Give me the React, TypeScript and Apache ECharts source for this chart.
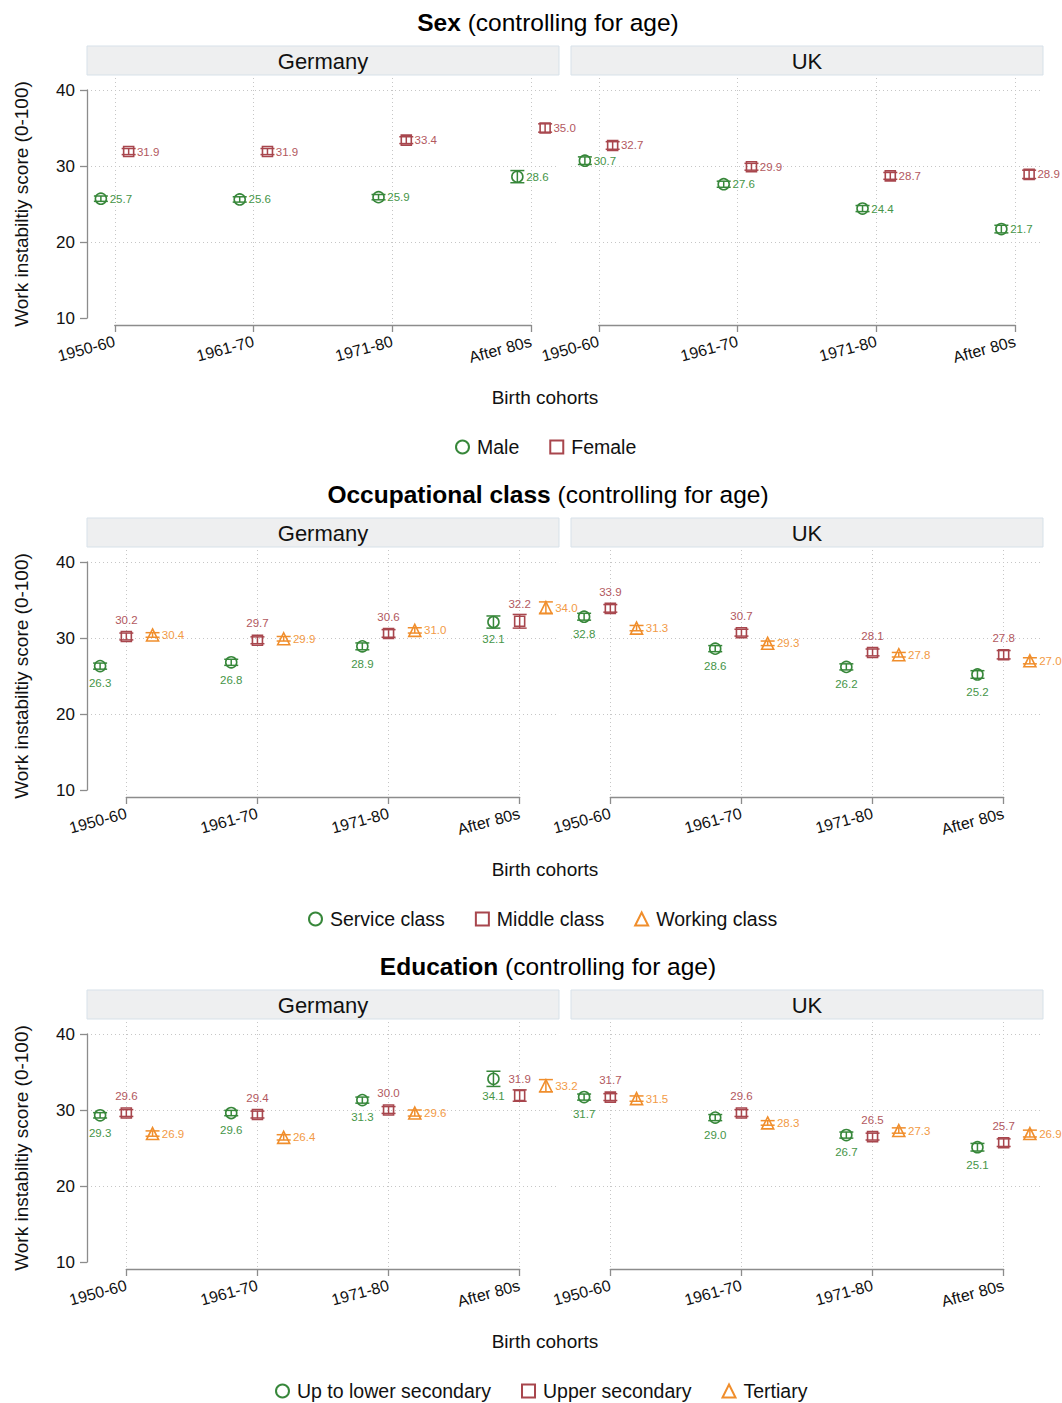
import React, { useEffect, useRef } from 'react';
import * as echarts from 'echarts';

// ---------- data ----------
const cohorts = ['1950-60', '1961-70', '1971-80', 'After 80s'];
const countries = ['Germany', 'UK'];

// Sex
const sexGroups = ['Male', 'Female'];
const sexGermanyMale = [25.7, 25.6, 25.9, 28.6];
const sexGermanyFemale = [31.9, 31.9, 33.4, 35.0];
const sexUKMale = [30.7, 27.6, 24.4, 21.7];
const sexUKFemale = [32.7, 29.9, 28.7, 28.9];
const sexGermanyMaleCI = [0.35, 0.35, 0.35, 0.8];
const sexGermanyFemaleCI = [0.4, 0.4, 0.45, 0.55];
const sexUKMaleCI = [0.5, 0.4, 0.4, 0.5];
const sexUKFemaleCI = [0.5, 0.45, 0.45, 0.55];

// Occupational class
const occGroups = ['Service class', 'Middle class', 'Working class'];
const occGermanyService = [26.3, 26.8, 28.9, 32.1];
const occGermanyMiddle = [30.2, 29.7, 30.6, 32.2];
const occGermanyWorking = [30.4, 29.9, 31.0, 34.0];
const occUKService = [32.8, 28.6, 26.2, 25.2];
const occUKMiddle = [33.9, 30.7, 28.1, 27.8];
const occUKWorking = [31.3, 29.3, 27.8, 27.0];
const occGermanyServiceCI = [0.4, 0.4, 0.45, 0.8];
const occGermanyMiddleCI = [0.45, 0.45, 0.5, 0.9];
const occGermanyWorkingCI = [0.3, 0.3, 0.35, 0.75];
const occUKServiceCI = [0.45, 0.4, 0.4, 0.5];
const occUKMiddleCI = [0.5, 0.45, 0.45, 0.55];
const occUKWorkingCI = [0.35, 0.3, 0.3, 0.4];

// Education
const eduGroups = ['Up to lower secondary', 'Upper secondary', 'Tertiary'];
const eduGermanyLower = [29.3, 29.6, 31.3, 34.1];
const eduGermanyUpper = [29.6, 29.4, 30.0, 31.9];
const eduGermanyTertiary = [26.9, 26.4, 29.6, 33.2];
const eduUKLower = [31.7, 29.0, 26.7, 25.1];
const eduUKUpper = [31.7, 29.6, 26.5, 25.7];
const eduUKTertiary = [31.5, 28.3, 27.3, 26.9];
const eduGermanyLowerCI = [0.35, 0.35, 0.4, 1.0];
const eduGermanyUpperCI = [0.45, 0.45, 0.45, 0.75];
const eduGermanyTertiaryCI = [0.35, 0.35, 0.4, 0.8];
const eduUKLowerCI = [0.4, 0.4, 0.4, 0.5];
const eduUKUpperCI = [0.45, 0.45, 0.45, 0.5];
const eduUKTertiaryCI = [0.35, 0.3, 0.35, 0.45];

const panelTitles = ['Sex', 'Occupational class', 'Education'];

// ---------- styling / layout ----------
const FONT = '"Liberation Sans", Arial, Helvetica, sans-serif';
const markerColors = ['#37873a', '#a8464d', '#f08e2c'];
const labelColors = ['#469548', '#b2585e', '#f29a45'];
const symbols = ['circle', 'rect', 'triangle'];
const symbolSizes = [11, 10, 12];
const AXIS_GRAY = '#8c8c8c';
const GRID_GRAY = '#c6c6c6';
const PANEL_SHIFT = 472;
const FACET_LEFT = [87, 571];
const FACET_W = 472;
const LEGEND_LEFT = [450, 303, 270];

const panels = [
  {
    title: panelTitles[0],
    groups: sexGroups,
    values: [[sexGermanyMale, sexGermanyFemale], [sexUKMale, sexUKFemale]],
    cis: [[sexGermanyMaleCI, sexGermanyFemaleCI], [sexUKMaleCI, sexUKFemaleCI]],
    offsets: [-0.1, 0.1],
    range: [0.8, 4.2],
    labelPos: ['right', 'right'],
  },
  {
    title: panelTitles[1],
    groups: occGroups,
    values: [
      [occGermanyService, occGermanyMiddle, occGermanyWorking],
      [occUKService, occUKMiddle, occUKWorking],
    ],
    cis: [
      [occGermanyServiceCI, occGermanyMiddleCI, occGermanyWorkingCI],
      [occUKServiceCI, occUKMiddleCI, occUKWorkingCI],
    ],
    offsets: [-0.2, 0, 0.2],
    range: [0.7, 4.3],
    labelPos: ['bottom', 'top', 'right'],
  },
  {
    title: panelTitles[2],
    groups: eduGroups,
    values: [
      [eduGermanyLower, eduGermanyUpper, eduGermanyTertiary],
      [eduUKLower, eduUKUpper, eduUKTertiary],
    ],
    cis: [
      [eduGermanyLowerCI, eduGermanyUpperCI, eduGermanyTertiaryCI],
      [eduUKLowerCI, eduUKUpperCI, eduUKTertiaryCI],
    ],
    offsets: [-0.2, 0, 0.2],
    range: [0.7, 4.3],
    labelPos: ['bottom', 'top', 'right'],
  },
];

function buildOption() {
  const grids: any[] = [];
  const xAxes: any[] = [];
  const yAxes: any[] = [];
  const series: any[] = [];
  const graphics: any[] = [];
  const legends: any[] = [];

  panels.forEach((P, p) => {
    const t = p * PANEL_SHIFT;
    const [rmin, rmax] = P.range;
    const unit = FACET_W / (rmax - rmin);

    // panel title
    graphics.push({
      type: 'text',
      x: 548,
      y: t + 22,
      style: {
        text: `{b|${P.title}} (controlling for age)`,
        fontSize: 24.5,
        fontFamily: FONT,
        fill: '#000',
        align: 'center',
        verticalAlign: 'middle',
        rich: { b: { fontSize: 24.5, fontFamily: FONT, fontWeight: 'bold', fill: '#000' } },
      },
    });
    // x title
    graphics.push({
      type: 'text',
      x: 545,
      y: t + 397,
      style: {
        text: 'Birth cohorts',
        fontSize: 19,
        fontFamily: FONT,
        fill: '#111',
        align: 'center',
        verticalAlign: 'middle',
      },
    });

    legends.push({
      data: P.groups,
      top: t + 432,
      left: LEGEND_LEFT[p],
      itemWidth: 13,
      itemHeight: 13,
      itemGap: 30,
      selectedMode: false,
      textStyle: { fontSize: 19.5, color: '#111', fontFamily: FONT, padding: [0, 0, 0, 3] },
    });

    countries.forEach((country, f) => {
      const left = FACET_LEFT[f];
      const aIdx = (p * 2 + f) * 2;
      const bIdx = aIdx + 1;

      // strip
      graphics.push({
        type: 'rect',
        shape: { x: left, y: t + 46, width: FACET_W, height: 29 },
        style: { fill: '#eeeff0', stroke: '#d7e1e9', lineWidth: 1 },
      });
      graphics.push({
        type: 'text',
        x: left + FACET_W / 2,
        y: t + 61,
        style: {
          text: country,
          fontSize: 22,
          fontFamily: FONT,
          fill: '#111',
          align: 'center',
          verticalAlign: 'middle',
        },
      });

      // grid A: data
      grids.push({ left, top: t + 90, width: FACET_W, height: 228 });
      // grid B: cohort axis holder
      grids.push({ left: left + (1 - rmin) * unit, top: t + 78, width: 3 * unit, height: 247 });

      xAxes.push({ gridIndex: aIdx, type: 'value', min: rmin, max: rmax, show: false });
      xAxes.push({
        gridIndex: bIdx,
        type: 'value',
        min: 1,
        max: 4,
        interval: 1,
        position: 'bottom',
        offset: 6,
        axisLine: { show: true, lineStyle: { color: AXIS_GRAY, width: 1.3 } },
        axisTick: { show: true, length: 7, lineStyle: { color: AXIS_GRAY, width: 1.3 } },
        axisLabel: {
          rotate: 15,
          fontSize: 16,
          fontFamily: FONT,
          color: '#111',
          margin: 10,
          formatter: (v: number) => cohorts[Math.round(v) - 1] ?? '',
        },
        splitLine: { show: true, lineStyle: { type: [1, 3], color: GRID_GRAY, width: 1 } },
      });

      const showY = f === 0;
      yAxes.push({
        gridIndex: aIdx,
        type: 'value',
        min: 10,
        max: 40,
        interval: 10,
        axisLine: { show: showY, lineStyle: { color: AXIS_GRAY, width: 1.3 } },
        axisTick: { show: showY, length: 7, lineStyle: { color: AXIS_GRAY, width: 1.3 } },
        axisLabel: { show: showY, fontSize: 17, fontFamily: FONT, color: '#111', margin: 12 },
        splitLine: {
          show: true,
          showMinLine: false,
          lineStyle: { type: [1, 3], color: GRID_GRAY, width: 1 },
        },
        name: showY ? 'Work instabiltiy score (0-100)' : '',
        nameLocation: 'middle',
        nameGap: 56,
        nameTextStyle: { fontSize: 19, fontFamily: FONT, color: '#111' },
      });
      yAxes.push({ gridIndex: bIdx, type: 'value', min: 0, max: 1, show: false });

      P.groups.forEach((g, i) => {
        const vals = P.values[f][i];
        const cis = P.cis[f][i];
        const off = P.offsets[i];
        const color = markerColors[i];
        series.push({
          type: 'custom',
          name: g + ' CI',
          xAxisIndex: aIdx,
          yAxisIndex: aIdx,
          silent: true,
          z: 3,
          data: vals.map((v, k) => [k + 1 + off, v - cis[k], v + cis[k]]),
          renderItem: (params: any, api: any) => {
            const x = api.value(0);
            const lo = api.coord([x, api.value(1)]);
            const hi = api.coord([x, api.value(2)]);
            const hw = 7;
            const style = { stroke: color, lineWidth: 1.5, fill: 'none' };
            return {
              type: 'group',
              children: [
                { type: 'line', shape: { x1: lo[0], y1: lo[1], x2: hi[0], y2: hi[1] }, style },
                { type: 'line', shape: { x1: lo[0] - hw, y1: lo[1], x2: lo[0] + hw, y2: lo[1] }, style },
                { type: 'line', shape: { x1: hi[0] - hw, y1: hi[1], x2: hi[0] + hw, y2: hi[1] }, style },
              ],
            };
          },
        });
        series.push({
          type: 'scatter',
          name: g,
          xAxisIndex: aIdx,
          yAxisIndex: aIdx,
          symbol: symbols[i],
          symbolSize: symbolSizes[i],
          z: 4,
          data: vals.map((v, k) => [k + 1 + off, v]),
          itemStyle: { color: 'rgba(255,255,255,0)', borderColor: color, borderWidth: 1.6, opacity: 1 },
          label: {
            show: true,
            position: P.labelPos[i],
            distance: P.labelPos[i] === 'right' ? 2.5 : 5,
            formatter: (d: any) => Number(d.value[1]).toFixed(1),
            fontSize: 11.5,
            fontFamily: FONT,
            color: labelColors[i],
          },
        });
      });
    });
  });

  return {
    animation: false,
    backgroundColor: '#ffffff',
    textStyle: { fontFamily: FONT },
    grid: grids,
    xAxis: xAxes,
    yAxis: yAxes,
    legend: legends,
    series,
    graphic: { elements: graphics },
  };
}

export default function App() {
  const ref = useRef<HTMLDivElement>(null);
  useEffect(() => {
    if (!ref.current) return;
    const chart = echarts.init(ref.current, undefined, { renderer: 'svg' });
    chart.setOption(buildOption() as any);
    return () => chart.dispose();
  }, []);
  return (
    <div
      ref={ref}
      style={{ position: 'absolute', left: 0, top: 0, width: 1062, height: 1403, background: '#fff' }}
    />
  );
}
